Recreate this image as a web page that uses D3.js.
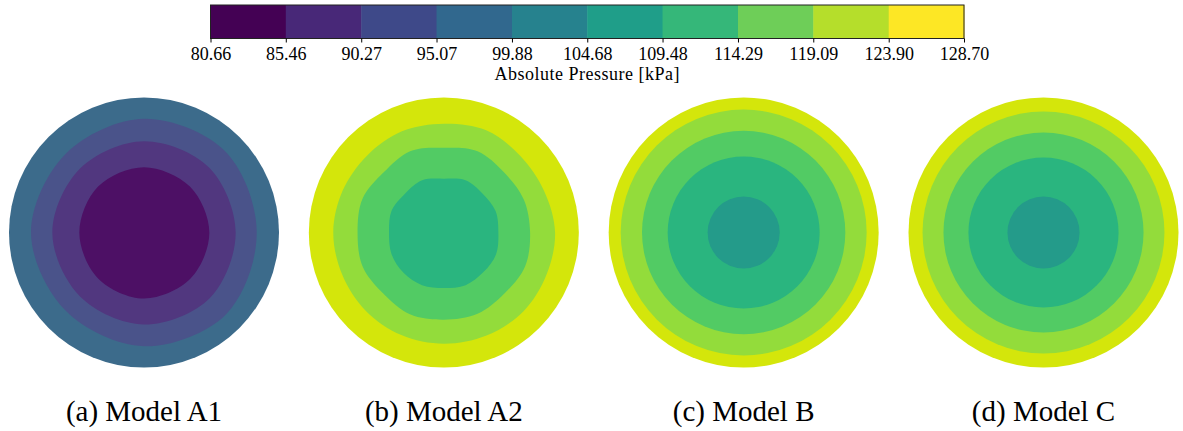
<!DOCTYPE html>
<html>
<head>
<meta charset="utf-8">
<script src="https://cdn.jsdelivr.net/npm/d3@7"></script>
<style>
  body { margin: 0; background: #fff; }
  svg { display: block; }
</style>
</head>
<body>
<svg></svg>
<script>
// colorbar edges (kPa)
const edges = [80.66, 85.46, 90.27, 95.07, 99.88, 104.68, 109.48, 114.29, 119.09, 123.90, 128.70];
// fill colours of the contour bands as they appear in the plots
const bandColors = ['#4d1065', '#51377f', '#4a538a', '#3c6b8b', '#2c8389',
                    '#249b8a', '#2ab57f', '#52cb64', '#93dc3b', '#d4e60b'];

const models = ['(a) Model A1', '(b) Model A2', '(c) Model B', '(d) Model C'];

// band boundaries read at these angles (deg, clockwise from top)
const a1Angles = [0, 45, 90, 135, 180, 225, 270, 315];
const a2Angles = [0, 22.5, 45, 67.5, 90, 112.5, 135, 157.5, 180, 202.5, 225, 247.5, 270, 292.5, 315, 337.5];

// each model: pressure of each band (outer -> centre) and outer radius of that band (1 = disc edge)
const a1Pressure = [97.5, 92.7, 87.9, 83.1];
const a1Radius = [
  [1],
  [0.842, 0.850, 0.835, 0.858, 0.842, 0.82, 0.837, 0.822],
  [0.676, 0.681, 0.679, 0.688, 0.681, 0.670, 0.679, 0.670],
  [0.484, 0.481, 0.484, 0.485, 0.489, 0.481, 0.479, 0.481]
];
const a2Pressure = [126.3, 121.5, 116.7, 111.9];
const a2Radius = [
  [1],
  [0.806, 0.820, 0.802, 0.804, 0.824, 0.822, 0.830, 0.826, 0.824, 0.822, 0.819, 0.815, 0.819, 0.811, 0.805, 0.811],
  [0.628, 0.652, 0.630, 0.641, 0.639, 0.652, 0.637, 0.652, 0.646, 0.656, 0.637, 0.652, 0.639, 0.652, 0.630, 0.652],
  [0.399, 0.419, 0.407, 0.415, 0.404, 0.419, 0.415, 0.422, 0.411, 0.422, 0.422, 0.419, 0.406, 0.419, 0.407, 0.419]
];
const bPressure = [126.3, 121.5, 116.7, 111.9, 107.1];
const bRadius = [[1], [0.911], [0.753], [0.563], [0.267]];
const cPressure = [126.3, 121.5, 116.7, 111.9, 107.1];
const cRadius = [[1], [0.896], [0.741], [0.556], [0.267]];

const W = 1183, H = 431;
const serif = '"Liberation Serif"';
const svg = d3.select('svg').attr('width', W).attr('height', H);

// ---- colorbar
const cbTop = 5, cbBottom = 38.5;
const x = d3.scaleLinear().domain([edges[0], edges[edges.length - 1]]).range([210.5, 964]);

const cb = svg.append('g');
cb.selectAll('rect')
  .data(d3.pairs(edges))
  .enter()
  .append('rect')
  .attr('x', d => x(d[0]))
  .attr('width', d => x(d[1]) - x(d[0]) + 0.5)
  .attr('y', cbTop)
  .attr('height', cbBottom - cbTop)
  .attr('fill', (d, i) => d3.interpolateViridis(i / (edges.length - 2)));

cb.append('rect')
  .attr('x', x.range()[0]).attr('y', cbTop)
  .attr('width', x.range()[1] - x.range()[0])
  .attr('height', cbBottom - cbTop)
  .attr('fill', 'none')
  .attr('stroke', '#222')
  .attr('stroke-width', 1);

const axis = d3.axisBottom(x)
  .tickValues(edges)
  .tickFormat(d3.format('.2f'))
  .tickSize(4)
  .tickPadding(5);

svg.append('g')
  .attr('transform', `translate(0,${cbBottom})`)
  .call(axis)
  .call(g => g.select('.domain').remove())
  .call(g => g.selectAll('.tick line').attr('stroke', '#000'))
  .call(g => g.selectAll('.tick text')
    .style('font-family', serif)
    .style('font-size', '18px')
    .attr('fill', '#000'));

svg.append('text')
  .attr('x', (x.range()[0] + x.range()[1]) / 2)
  .attr('y', 80)
  .attr('text-anchor', 'middle')
  .style('font-family', serif)
  .style('font-size', '18px')
  .attr('letter-spacing', 0.5)
  .text('Absolute Pressure [kPa]');

// ---- contour discs
const color = d3.scaleThreshold().domain(edges.slice(1, -1)).range(bandColors);
const cx = d3.scalePoint().domain(models).range([144, 1043.5]);
const r = d3.scaleLinear().domain([0, 1]).range([0, 135]);
const cy = 232.5;

const radial = d3.lineRadial()
  .angle(d => d.a)
  .radius(d => r(d.r))
  .curve(d3.curveCatmullRomClosed);

const discs = [
  { name: models[0], pressure: a1Pressure, radius: a1Radius, angles: a1Angles },
  { name: models[1], pressure: a2Pressure, radius: a2Radius, angles: a2Angles },
  { name: models[2], pressure: bPressure, radius: bRadius, angles: null },
  { name: models[3], pressure: cPressure, radius: cRadius, angles: null }
];

const disc = svg.selectAll('g.disc')
  .data(discs)
  .enter()
  .append('g')
  .attr('class', 'disc')
  .attr('transform', d => `translate(${cx(d.name)},${cy})`);

disc.selectAll('path')
  .data(d => d.pressure.map((p, i) => ({ p, rad: d.radius[i], angles: d.angles })))
  .enter()
  .append('path')
  .attr('fill', d => color(d.p))
  .attr('d', d => {
    if (d.rad.length === 1) {
      return d3.arc()({ innerRadius: 0, outerRadius: r(d.rad[0]), startAngle: 0, endAngle: 2 * Math.PI });
    }
    return radial(d.rad.map((v, i) => ({ a: d.angles[i] * Math.PI / 180, r: v })));
  });

// captions
svg.selectAll('text.caption')
  .data(models)
  .enter()
  .append('text')
  .attr('class', 'caption')
  .attr('x', d => cx(d))
  .attr('y', 421)
  .attr('text-anchor', 'middle')
  .style('font-family', serif)
  .style('font-size', '29px')
  .text(d => d);
</script>
</body>
</html>
